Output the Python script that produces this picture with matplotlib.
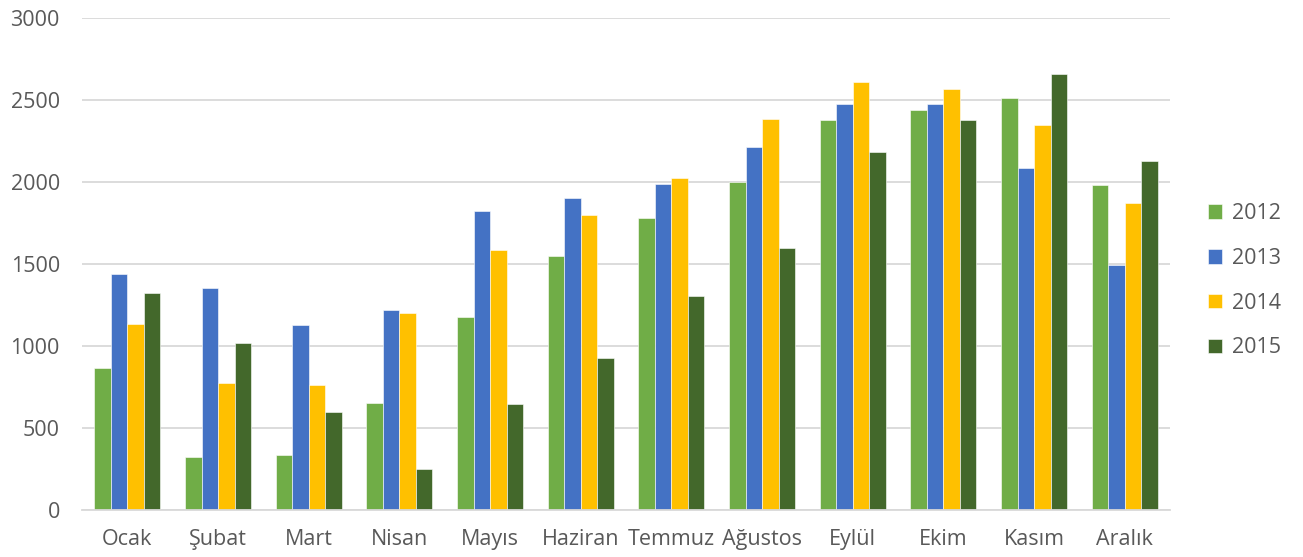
import matplotlib.pyplot as plt
import numpy as np

months = ['Ocak', 'Şubat', 'Mart', 'Nisan', 'Mayıs', 'Haziran', 'Temmuz',
          'Ağustos', 'Eylül', 'Ekim', 'Kasım', 'Aralık']
years = ['2012', '2013', '2014', '2015']
v2012 = [864, 321, 335, 654, 1175, 1551, 1780, 2002, 2380, 2437, 2512, 1980]
v2013 = [1439, 1356, 1128, 1218, 1823, 1900, 1990, 2211, 2478, 2478, 2085, 1496]
v2014 = [1136, 772, 760, 1199, 1585, 1797, 2024, 2382, 2610, 2565, 2346, 1872]
v2015 = [1325, 1018, 600, 252, 644, 927, 1307, 1598, 2181, 2376, 2660, 2128]
colors = ['#70AD47', '#4472C4', '#FFC000', '#43682B']

plt.rcParams['font.family'] = ['Open Sans', 'DejaVu Sans']
txt = '#595959'

fig = plt.figure(figsize=(13.03, 5.57), dpi=100)
ax = fig.add_axes([0.063, 0.0844, 0.835, 0.8833])

x = np.arange(len(months))
w = 0.182
for i, (vals, c, lab) in enumerate(zip([v2012, v2013, v2014, v2015], colors, years)):
    ax.bar(x + (i - 1.5) * w, vals, w, color=c, label=lab,
           edgecolor='white', linewidth=0.4)

ax.set_xlim(-0.5, len(months) - 0.5)
ax.set_ylim(0, 3000)
ax.set_yticks(range(0, 3001, 500))
ax.set_xticks(x)
ax.set_xticklabels(months)
ax.yaxis.grid(True, color='#D9D9D9', linewidth=1.3)
ax.set_axisbelow(True)
for s in ['top', 'right', 'left']:
    ax.spines[s].set_visible(False)
ax.spines['bottom'].set_color('#D9D9D9')
ax.spines['bottom'].set_linewidth(1.3)
ax.tick_params(axis='both', length=0, labelsize=15.5, colors=txt)
ax.tick_params(axis='y', pad=16)
ax.tick_params(axis='x', pad=14)

leg = fig.legend(loc='center left', bbox_to_anchor=(0.912, 0.496), frameon=False,
                 fontsize=15.5, handlelength=0.65, handleheight=0.65,
                 labelspacing=1.1, handletextpad=0.5)
for t in leg.get_texts():
    t.set_color(txt)

fig.savefig('out.png', dpi=100)
